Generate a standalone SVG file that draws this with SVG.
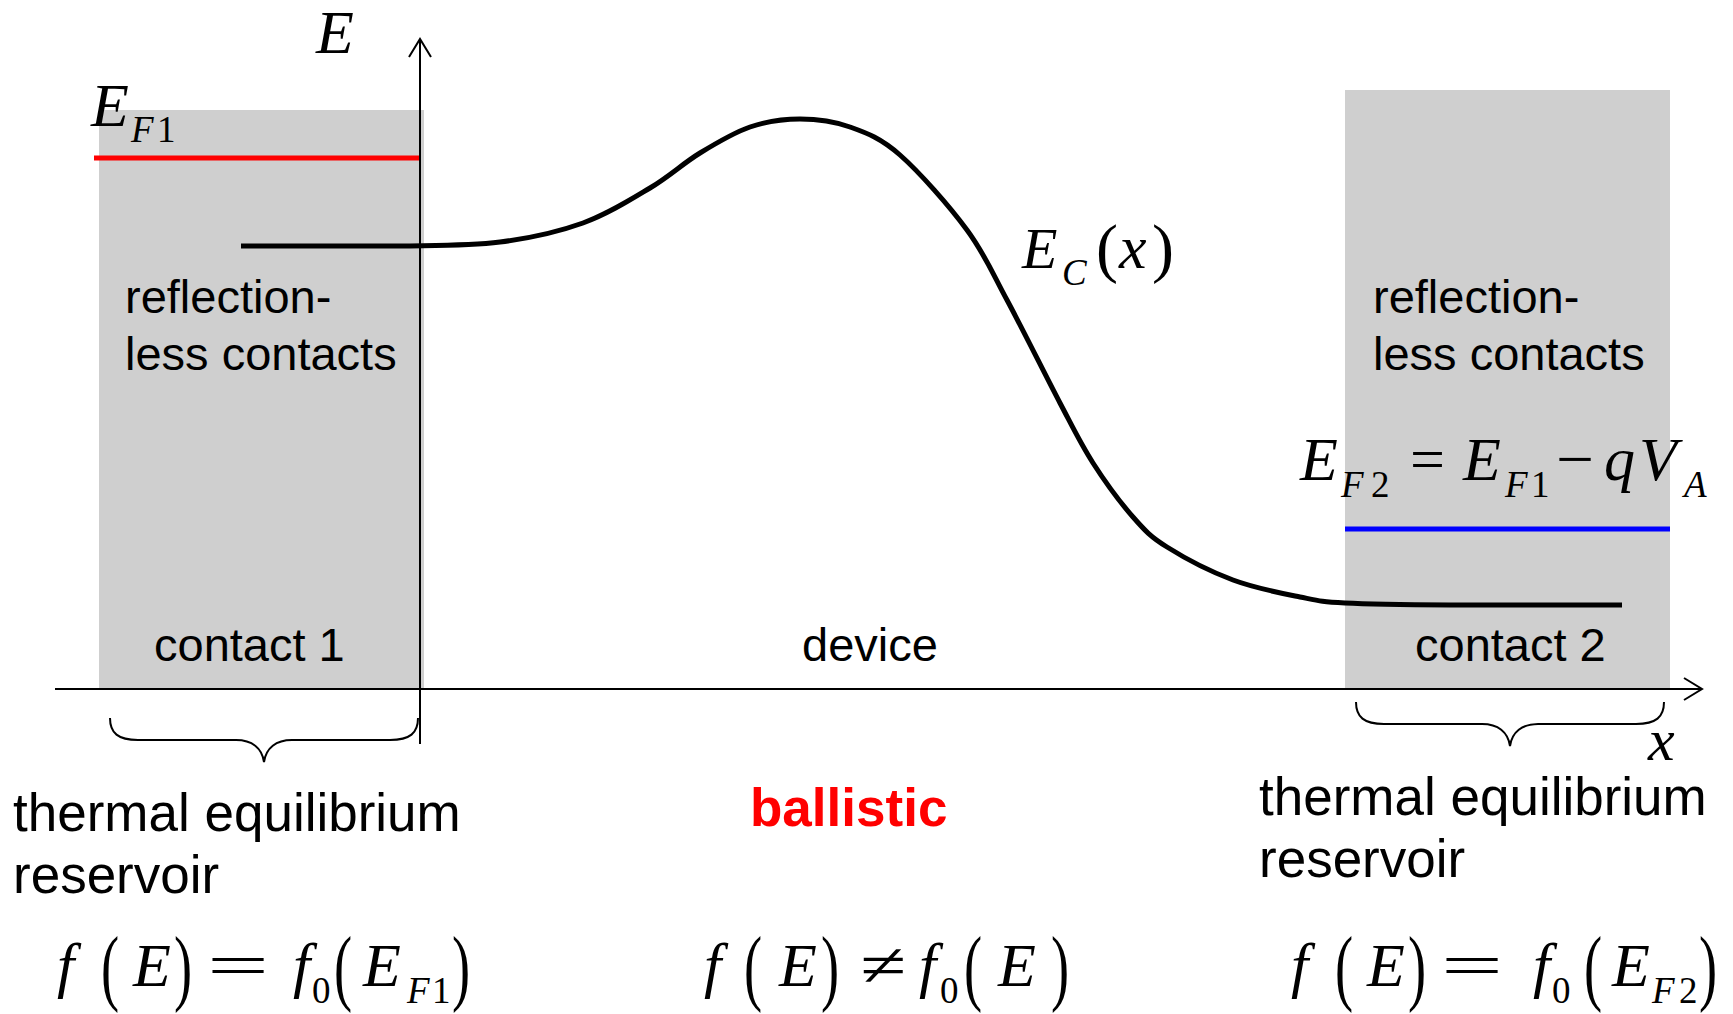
<svg xmlns="http://www.w3.org/2000/svg" width="1733" height="1014" viewBox="0 0 1733 1014">
<defs>
<style>
.sans{font-family:"Liberation Sans",Arial,sans-serif;fill:#000}
.lbl{font-size:47px}
.big{font-size:53px}
.m{font-family:"Liberation Serif","Times New Roman",serif;fill:#000}
.i{font-style:italic}
.sub{font-size:37px}
.f62{font-size:62px}
.par{font-size:64px}
.ax{stroke:#000;stroke-width:2;fill:none}
.brace{stroke:#000;stroke-width:2;fill:none}
.box{fill:#cfcfcf}
</style>
<marker id="arr" markerUnits="userSpaceOnUse" markerWidth="24" markerHeight="26" viewBox="0 0 20 26" refX="19" refY="13" orient="auto">
<path d="M1,2 L19,13 L1,24" fill="none" stroke="#000" stroke-width="2"/>
</marker>
</defs>
<rect width="1733" height="1014" fill="#fff"/>

<g id="contact1">
<rect class="box" x="99" y="110" width="325" height="579"/>
<line x1="94" y1="158" x2="419" y2="158" stroke="#ff0000" stroke-width="5"/>
<text class="m i" font-size="62" x="91" y="126">E</text>
<text class="m sub" x="131" y="142"><tspan class="i">F</tspan><tspan x="157">1</tspan></text>
<text class="sans lbl" x="125" y="313">reflection-</text>
<text class="sans lbl" x="125" y="370">less contacts</text>
<text class="sans lbl" x="154" y="661">contact 1</text>
</g>

<g id="contact2">
<rect class="box" x="1345" y="90" width="325" height="599"/>
<line x1="1345" y1="529" x2="1670" y2="529" stroke="#0000ff" stroke-width="5"/>
<text class="sans lbl" x="1373" y="313">reflection-</text>
<text class="sans lbl" x="1373" y="370">less contacts</text>
<text class="sans lbl" x="1415" y="661">contact 2</text>
<g id="ef2-eq">
<text class="m i" font-size="62" x="1300" y="480">E</text>
<text class="m sub" x="1341" y="497"><tspan class="i">F</tspan><tspan x="1371">2</tspan></text>
<text class="m" font-size="62" x="1410" y="480">=</text>
<text class="m i" font-size="62" x="1463" y="480">E</text>
<text class="m sub" x="1505" y="497"><tspan class="i">F</tspan><tspan x="1531">1</tspan></text>
<text class="m" font-size="62" x="1556" y="480" textLength="38" lengthAdjust="spacingAndGlyphs">−</text>
<text class="m i" font-size="62" x="1604" y="480">q</text>
<text class="m i" font-size="62" x="1639" y="480">V</text>
<text class="m i sub" x="1684" y="497">A</text>
</g>
</g>

<g id="device">
<path d="M241,246 L400,246 C443.2,245.3 469.5,245.8 500,242 C530.5,238.2 558,232 583,223 C608,214 630.5,199.7 650,188 C669.5,176.3 683.3,163.2 700,153 C716.7,142.8 733.3,132.7 750,127 C766.7,121.3 783.3,119 800,119 C816.7,119 833.3,121 850,127 C866.7,133 880.5,137.8 900,155 C919.5,172.2 949.2,205.8 967,230 C984.8,254.2 991.5,271.2 1007,300 C1022.5,328.8 1045.7,375.8 1060,403 C1074.3,430.2 1080.8,444 1093,463 C1105.2,482 1120.7,503 1133,517 C1145.3,531 1150.3,536.5 1167,547 C1183.7,557.5 1210.8,571.7 1233,580 C1255.2,588.3 1281.3,593.2 1300,597 C1318.7,600.8 1320,601.7 1345,603 C1370,604.3 1404,604.7 1450,605 L1622,605" fill="none" stroke="#000" stroke-width="5"/>
<text class="m i" font-size="58" x="1022" y="268">E</text>
<text class="m i sub" x="1062" y="285">C</text>
<text class="m" font-size="66" x="1096" y="270">(</text>
<text class="m i" font-size="62" x="1119" y="268">x</text>
<text class="m" font-size="66" x="1152" y="270">)</text>
<text class="sans lbl" x="802" y="661">device</text>
<text class="sans big" font-weight="bold" style="fill:#ff0000" x="750" y="826">ballistic</text>
</g>

<g id="connectors">
<line class="ax" x1="420" y1="744" x2="420" y2="39" marker-end="url(#arr)"/>
<line class="ax" x1="55" y1="689" x2="1702" y2="689" marker-end="url(#arr)"/>
<path class="brace" d="M110,718 C110,733 118,740 138,740 L236,740 C252,740 262,748 264,762 C266,748 276,740 292,740 L390,740 C410,740 418,733 418,718"/>
<path class="brace" d="M1356,702 C1356,717 1364,724 1384,724 L1482,724 C1498,724 1508,732 1510,746 C1512,732 1522,724 1538,724 L1636,724 C1656,724 1664,717 1664,702"/>
</g>

<g id="axis-labels">
<text class="m i" font-size="62" x="316" y="53">E</text>
<text class="m i" font-size="60" x="1648" y="760">x</text>
</g>

<g id="reservoir1">
<text class="sans big" x="13" y="831">thermal equilibrium</text>
<text class="sans big" x="13" y="893">reservoir</text>
<g id="f-left">
<text class="m i f62" x="57" y="986">f</text>
<text class="m par" transform="translate(101,995) scale(0.85,1.32)">(</text>
<text class="m i f62" x="133" y="986">E</text>
<text class="m par" transform="translate(174,995) scale(0.85,1.32)">)</text>
<text class="m f62" x="207" y="986" textLength="62" lengthAdjust="spacingAndGlyphs">=</text>
<text class="m i f62" x="293" y="986">f</text>
<text class="m sub" x="312" y="1003">0</text>
<text class="m par" transform="translate(334,995) scale(0.85,1.32)">(</text>
<text class="m i f62" x="363" y="986">E</text>
<text class="m sub" x="407" y="1003"><tspan class="i">F</tspan><tspan x="432">1</tspan></text>
<text class="m par" transform="translate(452,995) scale(0.85,1.32)">)</text>
</g>
</g>

<g id="f-middle">
<text class="m i f62" x="704" y="986">f</text>
<text class="m par" transform="translate(744,995) scale(0.85,1.32)">(</text>
<text class="m i f62" x="779" y="986">E</text>
<text class="m par" transform="translate(821,995) scale(0.85,1.32)">)</text>
<text class="m f62" x="860" y="986" textLength="46" lengthAdjust="spacingAndGlyphs">≠</text>
<text class="m i f62" x="919" y="986">f</text>
<text class="m sub" x="940" y="1003">0</text>
<text class="m par" transform="translate(964,995) scale(0.85,1.32)">(</text>
<text class="m i f62" x="998" y="986">E</text>
<text class="m par" transform="translate(1051,995) scale(0.85,1.32)">)</text>
</g>

<g id="reservoir2">
<text class="sans big" x="1259" y="815">thermal equilibrium</text>
<text class="sans big" x="1259" y="877">reservoir</text>
<g id="f-right">
<text class="m i f62" x="1291" y="986">f</text>
<text class="m par" transform="translate(1335,995) scale(0.85,1.32)">(</text>
<text class="m i f62" x="1367" y="986">E</text>
<text class="m par" transform="translate(1408,995) scale(0.85,1.32)">)</text>
<text class="m f62" x="1441" y="986" textLength="62" lengthAdjust="spacingAndGlyphs">=</text>
<text class="m i f62" x="1533" y="986">f</text>
<text class="m sub" x="1552" y="1003">0</text>
<text class="m par" transform="translate(1584,995) scale(0.85,1.32)">(</text>
<text class="m i f62" x="1612" y="986">E</text>
<text class="m sub" x="1652" y="1003"><tspan class="i">F</tspan><tspan x="1679">2</tspan></text>
<text class="m par" transform="translate(1699,995) scale(0.85,1.32)">)</text>
</g>
</g>
</svg>
